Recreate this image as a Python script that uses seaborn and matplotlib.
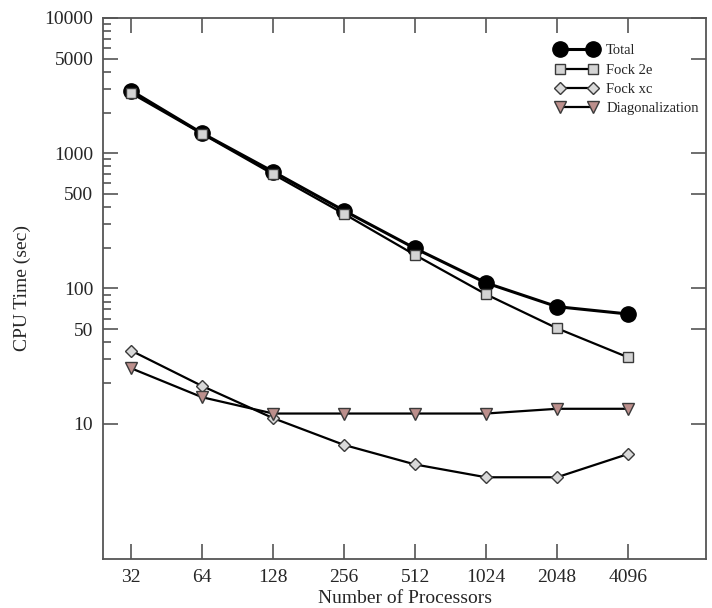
import matplotlib
matplotlib.use("Agg")
import matplotlib.pyplot as plt
import matplotlib.ticker as mticker
import numpy as np
import pandas as pd
import seaborn as sns

"""
CPU time vs number of processors, log-log scaling plot
"""

processors = [32, 64, 128, 256, 512, 1024, 2048, 4096]
total = [2900, 1405, 731, 376, 198, 110, 73.4, 64.8]
fock_2e = [2775, 1390, 700, 356, 177, 90.6, 50.8, 31]
fock_xc = [34.7, 19.0, 11.0, 6.97, 5.0, 4.02, 4.02, 5.97]
diagonalization = [25.7, 15.7, 11.9, 11.9, 11.9, 11.9, 12.9, 12.9]

y_major = [10, 50, 100, 500, 1000, 5000, 10000]
y_minor = [m * 10 ** e for e in range(1, 4) for m in range(2, 10) if m != 5]

sns.set_style("ticks")
plt.rcParams['font.family'] = ['Liberation Serif', 'DejaVu Serif']

df = pd.DataFrame({'procs': processors, 'Total': total, 'Fock 2e': fock_2e,
                   'Fock xc': fock_xc, 'Diagonalization': diagonalization})

fig = plt.figure(figsize=(7.12, 6.08), dpi=100)
ax = fig.add_axes([0.1447, 0.0806, 0.8469, 0.8898])

edge = '#3a3a3a'
series = [
    ('Total', dict(marker='o', markersize=11, markerfacecolor='black', markeredgecolor='black', linewidth=2.2)),
    ('Fock 2e', dict(marker='s', markersize=7, markerfacecolor='#d4d4d4', markeredgecolor=edge, linewidth=1.6)),
    ('Fock xc', dict(marker='D', markersize=6.5, markerfacecolor='#d9d9d9', markeredgecolor=edge, linewidth=1.6)),
    ('Diagonalization', dict(marker='v', markersize=9, markerfacecolor='#bc8f8c', markeredgecolor=edge, linewidth=1.6)),
]
for name, style in series:
    sns.lineplot(data=df, x='procs', y=name, ax=ax, color='black', label=name,
                 markeredgewidth=1.0, **style)

ax.set_xscale('log', base=2)
ax.set_yscale('log')
ax.set_xlim(24.3, 8780)
ax.set_ylim(1, 10000)

ax.xaxis.set_major_locator(mticker.FixedLocator(processors))
ax.xaxis.set_major_formatter(mticker.FixedFormatter([str(p) for p in processors]))
ax.xaxis.set_minor_locator(mticker.NullLocator())
ax.yaxis.set_major_locator(mticker.FixedLocator(y_major))
ax.yaxis.set_major_formatter(mticker.FixedFormatter([str(v) for v in y_major]))
ax.yaxis.set_minor_locator(mticker.FixedLocator(y_minor))
ax.yaxis.set_minor_formatter(mticker.NullFormatter())

ax.tick_params(which='major', direction='in', length=11, width=1.2, labelsize=14,
               top=True, right=True, color='#555555')
ax.tick_params(which='minor', direction='in', length=6, width=1.2, left=True, right=False, color='#555555')
ax.tick_params(axis='x', pad=7)
ax.tick_params(axis='y', pad=7)

for sp in ax.spines.values():
    sp.set_linewidth(1.3)
    sp.set_color('#555555')

ax.set_xlabel('Number of Processors', fontsize=14, labelpad=3)
ax.set_ylabel('CPU Time (sec)', fontsize=14, labelpad=10)

ax.legend(loc='upper right', bbox_to_anchor=(1.0, 0.965), frameon=False, fontsize=10.5,
          numpoints=2, handlelength=2.9, handletextpad=0.6, labelspacing=0.42,
          borderpad=0.2, borderaxespad=0.3)

fig.savefig('out.png', dpi=100)
